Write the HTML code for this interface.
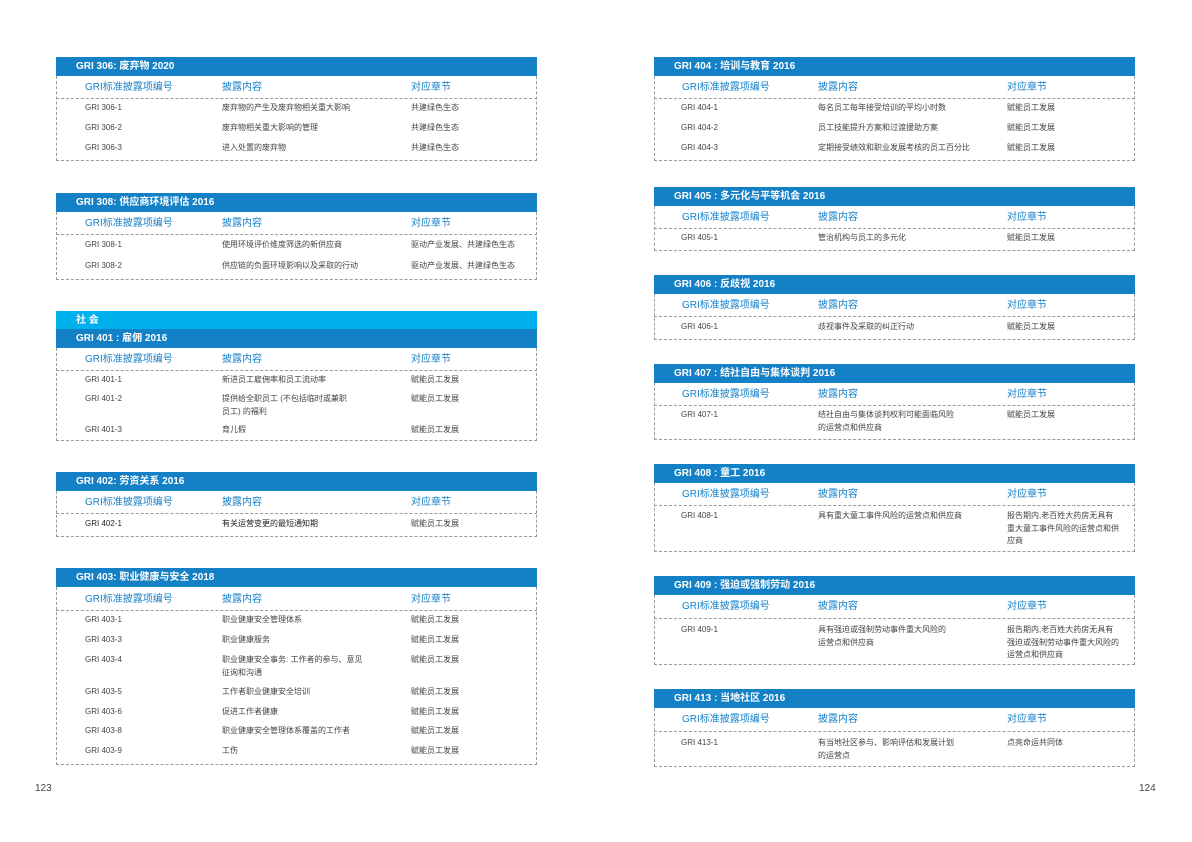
<!DOCTYPE html><html><head><meta charset="utf-8"><style>
body{margin:0;width:1192px;height:842px;background:#fff;position:relative;overflow:hidden;font-family:"Liberation Sans","Noto Sans CJK SC",sans-serif}
.b{position:absolute;width:481px}
.t{position:absolute;left:0;right:0;top:0;height:19px;background:#1480c6;color:#fff;font-weight:bold;font-size:10px;line-height:19px;padding-left:20px;box-sizing:border-box}
.s{background:#00b0ec}
.bd{position:absolute;left:0;right:0;top:19px;border:1px dashed #9a9a9a;border-top:none;box-sizing:border-box}
.hl{position:absolute;left:0;right:0;border-top:1px dashed #9a9a9a}
.b span{position:absolute;font-size:8px;line-height:12.5px;color:#444;white-space:nowrap}
.b span.h{font-size:10px;color:#1580c8;line-height:13px}
.pn{position:absolute;font-size:10px;color:#444}
</style></head><body>

<!-- 306 -->
<div class="b" style="left:56px;top:57px"><div class="t">GRI 306: 废弃物 2020</div><div class="bd" style="height:85px"></div><div class="hl" style="top:41px"></div>
<span class="h" style="left:29px;top:24px">GRI标准披露项编号</span><span class="h" style="left:166px;top:24px">披露内容</span><span class="h" style="left:355px;top:24px">对应章节</span>
<span style="left:29px;top:45px">GRI 306-1</span><span style="left:166px;top:45px">废弃物的产生及废弃物相关重大影响</span><span style="left:355px;top:45px">共建绿色生态</span>
<span style="left:29px;top:65px">GRI 306-2</span><span style="left:166px;top:65px">废弃物相关重大影响的管理</span><span style="left:355px;top:65px">共建绿色生态</span>
<span style="left:29px;top:85px">GRI 306-3</span><span style="left:166px;top:85px">进入处置的废弃物</span><span style="left:355px;top:85px">共建绿色生态</span></div>

<!-- 308 -->
<div class="b" style="left:56px;top:193px"><div class="t">GRI 308: 供应商环境评估 2016</div><div class="bd" style="height:68px"></div><div class="hl" style="top:41px"></div>
<span class="h" style="left:29px;top:24px">GRI标准披露项编号</span><span class="h" style="left:166px;top:24px">披露内容</span><span class="h" style="left:355px;top:24px">对应章节</span>
<span style="left:29px;top:46px">GRI 308-1</span><span style="left:166px;top:46px">使用环境评价维度筛选的新供应商</span><span style="left:355px;top:46px">驱动产业发展、共建绿色生态</span>
<span style="left:29px;top:67px">GRI 308-2</span><span style="left:166px;top:67px">供应链的负面环境影响以及采取的行动</span><span style="left:355px;top:67px">驱动产业发展、共建绿色生态</span></div>

<!-- 401 -->
<div class="b" style="left:56px;top:311px"><div class="t s">社 会</div></div>
<div class="b" style="left:56px;top:329px"><div class="t">GRI 401 : 雇佣 2016</div><div class="bd" style="height:93px"></div><div class="hl" style="top:41px"></div>
<span class="h" style="left:29px;top:24px">GRI标准披露项编号</span><span class="h" style="left:166px;top:24px">披露内容</span><span class="h" style="left:355px;top:24px">对应章节</span>
<span style="left:29px;top:45px">GRI 401-1</span><span style="left:166px;top:45px">新进员工雇佣率和员工流动率</span><span style="left:355px;top:45px">赋能员工发展</span>
<span style="left:29px;top:64px">GRI 401-2</span><span style="left:166px;top:64px">提供给全职员工 (不包括临时或兼职<br>员工) 的福利</span><span style="left:355px;top:64px">赋能员工发展</span>
<span style="left:29px;top:95px">GRI 401-3</span><span style="left:166px;top:95px">育儿假</span><span style="left:355px;top:95px">赋能员工发展</span></div>

<!-- 402 -->
<div class="b" style="left:56px;top:472px"><div class="t">GRI 402: 劳资关系 2016</div><div class="bd" style="height:46px"></div><div class="hl" style="top:41px"></div>
<span class="h" style="left:29px;top:24px">GRI标准披露项编号</span><span class="h" style="left:166px;top:24px">披露内容</span><span class="h" style="left:355px;top:24px">对应章节</span>
<span style="left:29px;top:46px;color:#222">GRI 402-1</span><span style="left:166px;top:46px;color:#222">有关运营变更的最短通知期</span><span style="left:355px;top:46px">赋能员工发展</span></div>

<!-- 403 -->
<div class="b" style="left:56px;top:568px"><div class="t">GRI 403: 职业健康与安全 2018</div><div class="bd" style="height:178px"></div><div class="hl" style="top:42px"></div>
<span class="h" style="left:29px;top:25px">GRI标准披露项编号</span><span class="h" style="left:166px;top:25px">披露内容</span><span class="h" style="left:355px;top:25px">对应章节</span>
<span style="left:29px;top:46px">GRI 403-1</span><span style="left:166px;top:46px">职业健康安全管理体系</span><span style="left:355px;top:46px">赋能员工发展</span>
<span style="left:29px;top:66px">GRI 403-3</span><span style="left:166px;top:66px">职业健康服务</span><span style="left:355px;top:66px">赋能员工发展</span>
<span style="left:29px;top:86px">GRI 403-4</span><span style="left:166px;top:86px">职业健康安全事务: 工作者的参与、意见<br>征询和沟通</span><span style="left:355px;top:86px">赋能员工发展</span>
<span style="left:29px;top:118px">GRI 403-5</span><span style="left:166px;top:118px">工作者职业健康安全培训</span><span style="left:355px;top:118px">赋能员工发展</span>
<span style="left:29px;top:138px">GRI 403-6</span><span style="left:166px;top:138px">促进工作者健康</span><span style="left:355px;top:138px">赋能员工发展</span>
<span style="left:29px;top:157px">GRI 403-8</span><span style="left:166px;top:157px">职业健康安全管理体系覆盖的工作者</span><span style="left:355px;top:157px">赋能员工发展</span>
<span style="left:29px;top:177px">GRI 403-9</span><span style="left:166px;top:177px">工伤</span><span style="left:355px;top:177px">赋能员工发展</span></div>

<!-- RIGHT -->
<div class="b" style="left:654px;top:57px"><div class="t">GRI 404 : 培训与教育 2016</div><div class="bd" style="height:85px"></div><div class="hl" style="top:41px"></div>
<span class="h" style="left:28px;top:24px">GRI标准披露项编号</span><span class="h" style="left:164px;top:24px">披露内容</span><span class="h" style="left:353px;top:24px">对应章节</span>
<span style="left:27px;top:45px">GRI 404-1</span><span style="left:164px;top:45px">每名员工每年接受培训的平均小时数</span><span style="left:353px;top:45px">赋能员工发展</span>
<span style="left:27px;top:65px">GRI 404-2</span><span style="left:164px;top:65px">员工技能提升方案和过渡援助方案</span><span style="left:353px;top:65px">赋能员工发展</span>
<span style="left:27px;top:85px">GRI 404-3</span><span style="left:164px;top:85px">定期接受绩效和职业发展考核的员工百分比</span><span style="left:353px;top:85px">赋能员工发展</span></div>

<div class="b" style="left:654px;top:187px"><div class="t">GRI 405 : 多元化与平等机会 2016</div><div class="bd" style="height:45px"></div><div class="hl" style="top:41px"></div>
<span class="h" style="left:28px;top:24px">GRI标准披露项编号</span><span class="h" style="left:164px;top:24px">披露内容</span><span class="h" style="left:353px;top:24px">对应章节</span>
<span style="left:27px;top:45px">GRI 405-1</span><span style="left:164px;top:45px">管治机构与员工的多元化</span><span style="left:353px;top:45px">赋能员工发展</span></div>

<div class="b" style="left:654px;top:275px"><div class="t">GRI 406 : 反歧视 2016</div><div class="bd" style="height:46px"></div><div class="hl" style="top:41px"></div>
<span class="h" style="left:28px;top:24px">GRI标准披露项编号</span><span class="h" style="left:164px;top:24px">披露内容</span><span class="h" style="left:353px;top:24px">对应章节</span>
<span style="left:27px;top:46px">GRI 406-1</span><span style="left:164px;top:46px">歧视事件及采取的纠正行动</span><span style="left:353px;top:46px">赋能员工发展</span></div>

<div class="b" style="left:654px;top:364px"><div class="t">GRI 407 : 结社自由与集体谈判 2016</div><div class="bd" style="height:57px"></div><div class="hl" style="top:41px"></div>
<span class="h" style="left:28px;top:24px">GRI标准披露项编号</span><span class="h" style="left:164px;top:24px">披露内容</span><span class="h" style="left:353px;top:24px">对应章节</span>
<span style="left:27px;top:45px">GRI 407-1</span><span style="left:164px;top:45px">结社自由与集体谈判权利可能面临风险<br>的运营点和供应商</span><span style="left:353px;top:45px">赋能员工发展</span></div>

<div class="b" style="left:654px;top:464px"><div class="t">GRI 408 : 童工 2016</div><div class="bd" style="height:69px"></div><div class="hl" style="top:41px"></div>
<span class="h" style="left:28px;top:24px">GRI标准披露项编号</span><span class="h" style="left:164px;top:24px">披露内容</span><span class="h" style="left:353px;top:24px">对应章节</span>
<span style="left:27px;top:46px">GRI 408-1</span><span style="left:164px;top:46px">具有重大童工事件风险的运营点和供应商</span><span style="left:353px;top:46px">报告期内,老百姓大药房无具有<br>重大童工事件风险的运营点和供<br>应商</span></div>

<div class="b" style="left:654px;top:576px"><div class="t">GRI 409 : 强迫或强制劳动 2016</div><div class="bd" style="height:70px"></div><div class="hl" style="top:42px"></div>
<span class="h" style="left:28px;top:24px">GRI标准披露项编号</span><span class="h" style="left:164px;top:24px">披露内容</span><span class="h" style="left:353px;top:24px">对应章节</span>
<span style="left:27px;top:48px">GRI 409-1</span><span style="left:164px;top:48px">具有强迫或强制劳动事件重大风险的<br>运营点和供应商</span><span style="left:353px;top:48px">报告期内,老百姓大药房无具有<br>强迫或强制劳动事件重大风险的<br>运营点和供应商</span></div>

<div class="b" style="left:654px;top:689px"><div class="t">GRI 413 : 当地社区 2016</div><div class="bd" style="height:59px"></div><div class="hl" style="top:42px"></div>
<span class="h" style="left:28px;top:24px">GRI标准披露项编号</span><span class="h" style="left:164px;top:24px">披露内容</span><span class="h" style="left:353px;top:24px">对应章节</span>
<span style="left:27px;top:48px">GRI 413-1</span><span style="left:164px;top:48px">有当地社区参与、影响评估和发展计划<br>的运营点</span><span style="left:353px;top:48px">点亮命运共同体</span></div>

<div class="pn" style="left:35px;top:783px">123</div>
<div class="pn" style="left:1139px;top:783px">124</div>
</body></html>
